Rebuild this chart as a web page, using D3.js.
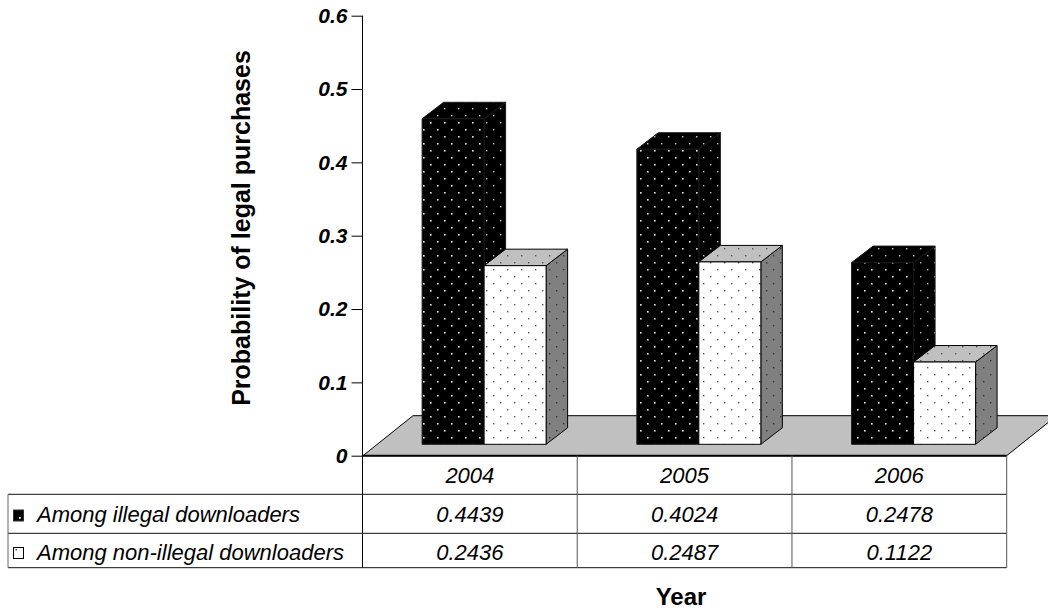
<!DOCTYPE html>
<html>
<head>
<meta charset="utf-8">
<script src="https://cdn.jsdelivr.net/npm/d3@7"></script>
<style>
  html, body { margin: 0; padding: 0; background: #fff; }
  svg { display: block; font-family: "Liberation Sans", Arial, sans-serif; }
</style>
</head>
<body>
<svg id="chart" width="1048" height="611"></svg>
<script>
// Chart data
const years = ["2004", "2005", "2006"];
const seriesNames = ["Among illegal downloaders", "Among non-illegal downloaders"];
const illegalValues = [0.4439, 0.4024, 0.2478];
const nonIllegalValues = [0.2436, 0.2487, 0.1122];
const yTickValues = [0, 0.1, 0.2, 0.3, 0.4, 0.5, 0.6];
const yTitle = "Probability of legal purchases";
const xTitle = "Year";

const svg = d3.select("#chart");

// Layout
const plotLeft = 362.5, plotRight = 1006.7;
const yZero = 455.7, yTop = 15.7;
const floorDepth = { dx: 50, dy: -40 };       // floor receding direction
const barInset = { dx: 14.25, dy: -11.4 };     // where bar fronts stand on the floor
const barDepth = { dx: 21.5, dy: -16.5 };      // box depth of each column
const tableRows = [494.3, 533.3, 567.7];
const tableLeft = 8;

const y = d3.scaleLinear().domain([0, 0.6]).range([yZero, yTop]);
const x = d3.scaleBand().domain(years).range([plotLeft, plotRight]);
const groupWidth = 124;
const xs = d3.scaleBand().domain(seriesNames).range([0, groupWidth]);

// Dotted fill patterns
const defs = svg.append("defs");
function dotPattern(id, bg, dot, r) {
  const p = defs.append("pattern").attr("id", id)
    .attr("patternUnits", "userSpaceOnUse").attr("width", 14).attr("height", 14);
  p.append("rect").attr("width", 14).attr("height", 14).attr("fill", bg);
  p.append("rect").attr("x", 3).attr("y", 3).attr("width", r).attr("height", r).attr("fill", dot);
  p.append("rect").attr("x", 10).attr("y", 10).attr("width", r).attr("height", r).attr("fill", dot);
}
dotPattern("darkFront", "#000", "#e8e8e8", 1.6);
dotPattern("darkTop", "#000", "#d0d0d0", 1.4);
dotPattern("darkSide", "#000", "#bbbbbb", 1.4);
dotPattern("lightFront", "#fff", "#555", 1.4);
dotPattern("lightTop", "#c0c0c0", "#555", 1.4);
dotPattern("lightSide", "#808080", "#333", 1.4);

const seriesStyles = [
  { values: illegalValues, front: "url(#darkFront)", top: "url(#darkTop)", side: "url(#darkSide)", stroke: "#1a1a1a" },
  { values: nonIllegalValues, front: "url(#lightFront)", top: "url(#lightTop)", side: "url(#lightSide)", stroke: "#000" }
];

// Floor
const fx0 = plotLeft + 0.5, fx1 = plotRight;
svg.append("polygon")
  .attr("points", [
    [fx0, yZero], [fx1, yZero],
    [fx1 + floorDepth.dx, yZero + floorDepth.dy], [fx0 + floorDepth.dx, yZero + floorDepth.dy]
  ].map(p => p.join(",")).join(" "))
  .attr("fill", "#c0c0c0").attr("stroke", "#000").attr("stroke-width", 1);

// 3D columns
const bars = svg.append("g");
years.forEach((yr, i) => {
  seriesNames.forEach((s, k) => {
    const st = seriesStyles[k];
    const v = st.values[i];
    const w = xs.bandwidth();
    const x0 = x(yr) + (x.bandwidth() - groupWidth) / 2 + barInset.dx + xs(s);
    const yb = y(0) + barInset.dy;
    const yt = y(v) + barInset.dy;
    const g = bars.append("g").attr("stroke", st.stroke).attr("stroke-width", 1).attr("stroke-linejoin", "round");
    g.append("polygon")
      .attr("points", [[x0 + w, yt], [x0 + w + barDepth.dx, yt + barDepth.dy],
        [x0 + w + barDepth.dx, yb + barDepth.dy], [x0 + w, yb]].map(p => p.join(",")).join(" "))
      .attr("fill", st.side);
    g.append("polygon")
      .attr("points", [[x0, yt], [x0 + w, yt], [x0 + w + barDepth.dx, yt + barDepth.dy],
        [x0 + barDepth.dx, yt + barDepth.dy]].map(p => p.join(",")).join(" "))
      .attr("fill", st.top);
    g.append("rect").attr("x", x0).attr("y", yt).attr("width", w).attr("height", yb - yt)
      .attr("fill", st.front);
  });
});

// Floor front edge (category axis line)
svg.append("line").attr("x1", fx0).attr("x2", fx1).attr("y1", yZero).attr("y2", yZero)
  .attr("stroke", "#000").attr("stroke-width", 2);

// Value axis
const yAxis = d3.axisLeft(y).tickValues(yTickValues).tickSize(11).tickPadding(4)
  .tickFormat(d => d === 0 ? "0" : d3.format(".1f")(d));
const ya = svg.append("g").attr("transform", `translate(${plotLeft},0)`).call(yAxis);
ya.select(".domain").remove();
ya.selectAll(".tick line").attr("stroke", "#000");
ya.selectAll(".tick text")
  .attr("font-family", "'Liberation Sans', Arial, sans-serif")
  .attr("font-size", 21).attr("font-weight", "bold").attr("font-style", "italic").attr("fill", "#000");
svg.append("line").attr("x1", plotLeft).attr("x2", plotLeft)
  .attr("y1", yTop).attr("y2", tableRows[2]).attr("stroke", "#000").attr("stroke-width", 1);

// Data table grid
const grid = svg.append("g").attr("stroke-width", 1);
tableRows.forEach(ry => {
  grid.append("line").attr("x1", tableLeft).attr("x2", plotRight).attr("y1", ry).attr("y2", ry)
    .attr("stroke", "#111");
});
grid.append("line").attr("x1", tableLeft).attr("x2", tableLeft)
  .attr("y1", tableRows[0]).attr("y2", tableRows[2]).attr("stroke", "#666");
years.forEach(yr => {
  const xr = x(yr) + x.bandwidth();
  grid.append("line").attr("x1", xr).attr("x2", xr).attr("y1", yZero).attr("y2", tableRows[2])
    .attr("stroke", "#555");
});

// Table text
const txt = svg.append("g").attr("font-size", 22).attr("font-style", "italic").attr("fill", "#000");
years.forEach((yr, i) => {
  const cx = x(yr) + x.bandwidth() / 2;
  txt.append("text").attr("x", cx).attr("y", 482.5).attr("text-anchor", "middle").text(yr);
  txt.append("text").attr("x", cx).attr("y", 522).attr("text-anchor", "middle")
    .text(d3.format(".4f")(illegalValues[i]));
  txt.append("text").attr("x", cx).attr("y", 559.5).attr("text-anchor", "middle")
    .text(d3.format(".4f")(nonIllegalValues[i]));
});

// Legend rows
const legendY = [522, 559.5];
seriesNames.forEach((s, k) => {
  const ly = legendY[k];
  if (k === 0) {
    svg.append("rect").attr("x", 13.5).attr("y", ly - 12).attr("width", 10).attr("height", 11)
      .attr("fill", "#000").attr("stroke", "#333");
    svg.append("rect").attr("x", 19).attr("y", ly - 5).attr("width", 1.8).attr("height", 1.8).attr("fill", "#fff");
  } else {
    svg.append("rect").attr("x", 13.5).attr("y", ly - 12).attr("width", 10).attr("height", 11)
      .attr("fill", "#fff").attr("stroke", "#000");
    svg.append("rect").attr("x", 15.5).attr("y", ly - 10.5).attr("width", 1.5).attr("height", 1.5).attr("fill", "#555");
  }
  txt.append("text").attr("x", 37).attr("y", ly).text(s);
});

// Axis titles
svg.append("text")
  .attr("transform", "translate(250,228) rotate(-90)")
  .attr("text-anchor", "middle").attr("font-size", 25).attr("font-weight", "bold")
  .text(yTitle);
svg.append("text")
  .attr("x", 681).attr("y", 605).attr("text-anchor", "middle")
  .attr("font-size", 24).attr("font-weight", "bold")
  .text(xTitle);
</script>
</body>
</html>
